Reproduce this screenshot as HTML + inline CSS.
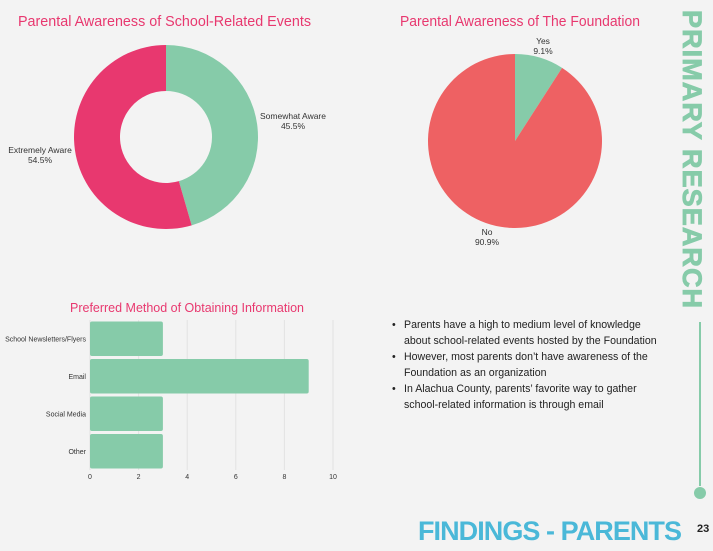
<!DOCTYPE html>
<html><head><meta charset="utf-8"><style>
body{margin:0;background:#f3f3f3;}
svg{display:block;font-family:"Liberation Sans",sans-serif;}
</style></head><body>
<svg id="s" width="713" height="551" viewBox="0 0 713 551">
<rect width="713" height="551" fill="#f3f3f3"/>
<text x="18" y="26" font-size="15" fill="#e8386f" textLength="293" lengthAdjust="spacingAndGlyphs">Parental Awareness of School-Related Events</text>
<g id="donut"></g>
<text x="400" y="26" font-size="15" fill="#e8386f" textLength="240" lengthAdjust="spacingAndGlyphs">Parental Awareness of The Foundation</text>
<g id="pie"></g>
<text x="70" y="312" font-size="13" fill="#e8386f" textLength="234" lengthAdjust="spacingAndGlyphs">Preferred Method of Obtaining Information</text>
<g id="bars"></g>
<g font-size="10.6" fill="#222">
<text x="392" y="328">•</text><text x="404" y="328">Parents have a high to medium level of knowledge</text>
<text x="404" y="344">about school-related events hosted by the Foundation</text>
<text x="392" y="360">•</text><text x="404" y="360">However, most parents don’t have awareness of the</text>
<text x="404" y="376">Foundation as an organization</text>
<text x="392" y="392">•</text><text x="404" y="392">In Alachua County, parents’ favorite way to gather</text>
<text x="404" y="408">school-related information is through email</text>
</g>
<text transform="translate(683,10) rotate(90)" font-size="27" font-weight="bold" fill="#86cba9" stroke="#86cba9" stroke-width="0.8" letter-spacing="2" textLength="300">PRIMARY RESEARCH</text>
<line x1="700" y1="322" x2="700" y2="486" stroke="#86cba9" stroke-width="2"/>
<circle cx="700" cy="493" r="6" fill="#86cba9"/>
<text x="418" y="540" font-size="27" font-weight="bold" fill="#4ab8d8" textLength="264">FINDINGS - PARENTS</text>
<text x="697" y="532" font-size="11" font-weight="bold" fill="#222">23</text>
</svg>
<script>
const donutLabels=["Somewhat Aware","Extremely Aware"];
const donutValues=[45.5,54.5];
const donutColors=["#86cba9","#e8386f"];
const pieLabels=["Yes","No"];
const pieValues=[9.1,90.9];
const pieColors=["#86cba9","#ee6163"];
const barCats=["School Newsletters/Flyers","Email","Social Media","Other"];
const barVals=[3,9,3,3];
const xTicks=[0,2,4,6,8,10];
const NS="http://www.w3.org/2000/svg";
function mk(t,a,p){const e=document.createElementNS(NS,t);for(const k in a)e.setAttribute(k,a[k]);p.appendChild(e);return e;}
function pt(cx,cy,r,f){const a=f*2*Math.PI;return [cx+r*Math.sin(a),cy-r*Math.cos(a)];}
function arcs(g,vals,cols,cx,cy,R,r0,name){
 const tot=vals.reduce((a,b)=>a+b,0);let acc=0;
 vals.forEach((v,i)=>{const f0=acc/tot,f1=(acc+v)/tot;acc+=v;
  const [x0,y0]=pt(cx,cy,R,f0),[x1,y1]=pt(cx,cy,R,f1);const lg=(f1-f0)>0.5?1:0;
  let d=`M${x0},${y0}A${R},${R} 0 ${lg} 1 ${x1},${y1}`;
  if(r0>0){const [a1,b1]=pt(cx,cy,r0,f1),[a0,b0]=pt(cx,cy,r0,f0);d+=`L${a1},${b1}A${r0},${r0} 0 ${lg} 0 ${a0},${b0}Z`;}
  else d+=`L${cx},${cy}Z`;
  const p=mk('path',{d:d,fill:cols[i]},g);
  
  
 });
}
const dg=document.getElementById('donut');
arcs(dg,donutValues,donutColors,166,137,92,46,'donut');
const dl=[[293,119],[40,153]];
donutLabels.forEach((l,i)=>{const t=mk('text',{x:dl[i][0],y:dl[i][1],"font-size":8.5,fill:"#333","text-anchor":"middle"},dg);t.textContent=l;
 
 const t2=mk('text',{x:dl[i][0],y:dl[i][1]+10,"font-size":8.5,fill:"#333","text-anchor":"middle"},dg);t2.textContent=donutValues[i].toFixed(1)+'%';
 });
const pg=document.getElementById('pie');
arcs(pg,pieValues,pieColors,515,141,87,0,'pie');
const pl=[[543,44],[487,235]];
pieLabels.forEach((l,i)=>{const t=mk('text',{x:pl[i][0],y:pl[i][1],"font-size":8.5,fill:"#333","text-anchor":"middle"},pg);t.textContent=l;
 
 const t2=mk('text',{x:pl[i][0],y:pl[i][1]+10,"font-size":8.5,fill:"#333","text-anchor":"middle"},pg);t2.textContent=pieValues[i].toFixed(1)+'%';
 });
const bg=document.getElementById('bars');
const x0=90,x1=333,y0=320,y1=470;
const xs=v=>x0+(v-xTicks[0])/(xTicks[xTicks.length-1]-xTicks[0])*(x1-x0);
const band=(y1-y0)/barCats.length;
xTicks.forEach(t=>{const l=mk('line',{x1:xs(t),x2:xs(t),y1:y0,y2:y1,stroke:"#e2e2e2","stroke-width":1},bg);
 
 const tx=mk('text',{x:xs(t),y:479,"font-size":7,fill:"#333","text-anchor":"middle"},bg);tx.textContent=t;
 });
barCats.forEach((c,i)=>{const y=y0+i*band+1.5;
 const r=mk('rect',{x:x0,y:y,width:xs(barVals[i])-x0,height:band-3,rx:2,fill:"#86cba9"},bg);
 
 
 const t=mk('text',{x:86,y:y+band/2+1,"font-size":7,fill:"#333","text-anchor":"end"},bg);t.textContent=c;
 });
</script>
</body></html>
